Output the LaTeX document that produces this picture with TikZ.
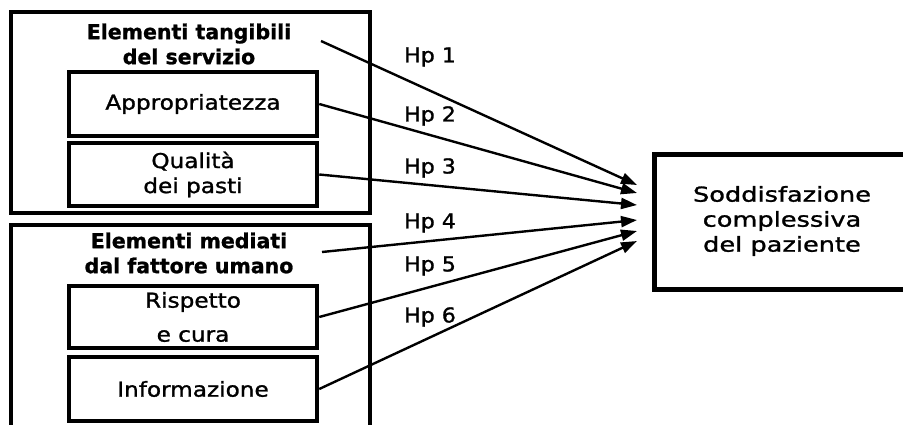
\documentclass[tikz,border=0pt]{standalone}
\usepackage{fontspec}
\setmainfont{DejaVu Sans}[BoldFeatures={FakeBold=1.2}]
\newfontfamily\boxfont[FakeStretch=1.13,FakeBold=1.3]{DejaVu Sans}
\newfontfamily\hpfont[FakeStretch=1.08,FakeBold=1.3]{DejaVu Sans}
\newfontfamily\outfont[FakeStretch=1.25,FakeBold=1.3]{DejaVu Sans}
\usetikzlibrary{arrows.meta}
\begin{document}
\begin{tikzpicture}[x=1pt,y=-1pt,
  box/.style={draw,line width=4.5pt,inner sep=0pt,align=center},
  innerbox/.style={box,minimum width=248pt,font=\boxfont\fontsize{20.5}{25}\selectfont},
  titletext/.style={inner sep=0pt,align=center,font=\bfseries\fontsize{20.5}{25}\selectfont},
  conn/.style={line width=2.4pt,-{Triangle[length=16pt,width=11pt]}},
  hp/.style={inner sep=0pt,font=\hpfont\fontsize{20.5}{25}\selectfont}]
\useasboundingbox (0,0) rectangle (903,424);
\clip (0,0) rectangle (903,424);
% group boxes
\node[box,minimum width=359pt,minimum height=201pt] (g1) at (190.5,112.5) {};
\node[box,minimum width=359pt,minimum height=230pt] (g2) at (190.5,340) {};
% titles
\node[titletext] (t1) at (189,44) {Elementi tangibili\\del servizio};
\node[titletext] (t2) at (189,253) {Elementi mediati\\dal fattore umano};
% inner boxes
\node[innerbox,minimum height=64pt] (a) at (193,104) {Appropriatezza};
\node[innerbox,minimum height=63pt] (q) at (193,174.5) {Qualità\\dei pasti};
\node[innerbox,minimum height=62pt,font=\boxfont\fontsize{20.5}{34}\selectfont] (r) at (193,317) {Rispetto\\e cura};
\node[innerbox,minimum height=64pt] (i) at (193,389) {Informazione};
% outcome box
\node[box,minimum width=268pt,minimum height=135pt,anchor=north west] (s) at (652,152) {};
\node[inner sep=0pt,align=center,font=\outfont\fontsize{20.5}{25}\selectfont] (st) at (782,221) {Soddisfazione\\complessiva\\del paziente};
% connector ends
\coordinate (s1) at (321,41);
\coordinate (s4) at (322,252);
\coordinate (e1) at (637,185);
\coordinate (e2) at (637,193);
\coordinate (e3) at (637,205);
\coordinate (e4) at (637,220);
\coordinate (e5) at (637,231);
\coordinate (e6) at (637,241);
\draw[conn] (s1) -- (e1);
\draw[conn] (a.east) -- (e2);
\draw[conn] (q.east) -- (e3);
\draw[conn] (s4) -- (e4);
\draw[conn] (r.east) -- (e5);
\draw[conn] (i.east) -- (e6);
% labels
\node[hp] (h1) at (430,57) {Hp 1};
\node[hp] (h2) at (430,116) {Hp 2};
\node[hp] (h3) at (430,168) {Hp 3};
\node[hp] (h4) at (430,223) {Hp 4};
\node[hp] (h5) at (430,266) {Hp 5};
\node[hp] (h6) at (430,317) {Hp 6};
\end{tikzpicture}
\end{document}
